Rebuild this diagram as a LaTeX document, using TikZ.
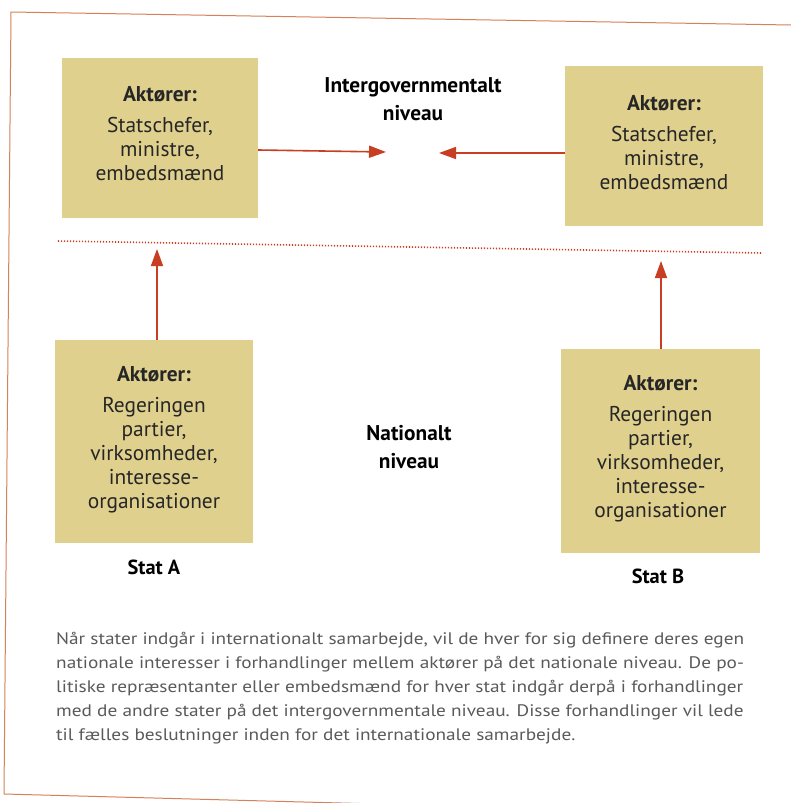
\documentclass[tikz,border=0pt]{standalone}
\usepackage{fontspec}
\setmainfont{PT Sans}
\newfontfamily\capfont[FakeStretch=1.155]{PT Sans}
\usetikzlibrary{arrows.meta}
\definecolor{boxfill}{RGB}{224,208,142}
\definecolor{arrowred}{RGB}{200,62,34}
\definecolor{framecol}{RGB}{212,130,90}
\definecolor{captext}{RGB}{90,90,90}
\begin{document}
\begin{tikzpicture}[x=1pt,y=-1pt,
  actorbox/.style={fill=boxfill,draw=none,inner sep=0pt,align=center,
    font=\fontsize{21.4}{24}\selectfont,text=black!85},
  redarrow/.style={draw=arrowred,line width=1.6pt,-{Triangle[length=17pt,width=12pt]}},
  levellabel/.style={align=center,font=\bfseries\fontsize{21.3}{28.5}\selectfont},
  statlabel/.style={font=\bfseries\fontsize{20.4}{24}\selectfont},
  capline/.style={anchor=base west,inner sep=0pt,text=captext,font=\capfont\fontsize{16.7}{24}\selectfont}]
\useasboundingbox (0,0) rectangle (791,803);
\fill[white] (0,0) rectangle (791,803);
% frame
\draw[framecol,line width=1pt] (4,794) -- (11,12) -- (791,25);
\draw[framecol,line width=1pt] (4,794) -- (360,803.5);
% boxes
\node[actorbox,minimum width=196pt,minimum height=160pt] (tl) at (160,138) {};
\node[actorbox,minimum width=198pt,minimum height=160pt] (tr) at (664,146) {};
\node[actorbox,minimum width=198pt,minimum height=203pt] (bl) at (154,441.5) {};
\node[actorbox,minimum width=199pt,minimum height=204pt] (br) at (660.5,451) {};
% box texts
\node[actorbox,fill=none] (tlt) at (160,134) {{\bfseries Aktører:}\\[7pt]Statschefer,\\ministre,\\embedsmænd};
\node[actorbox,fill=none] (trt) at (664,143) {{\bfseries Aktører:}\\[7pt]Statschefer,\\ministre,\\embedsmænd};
\node[actorbox,fill=none] (blt) at (154,440) {{\bfseries Aktører:}\\[7pt]Regeringen\\partier,\\virksomheder,\\interesse-\\organisationer};
\node[actorbox,fill=none] (brt) at (660.5,449) {{\bfseries Aktører:}\\[7pt]Regeringen\\partier,\\virksomheder,\\interesse-\\organisationer};
% level labels
\node[levellabel] (inter) at (413,99) {Intergovernmentalt\\niveau};
\node[levellabel] (nat) at (409,447) {Nationalt\\niveau};
% state labels
\node[statlabel] (sa) at (154,567) {Stat A};
\node[statlabel] (sb) at (658,576) {Stat B};
% dotted separator
\coordinate (dl) at (58,241);
\coordinate (dr) at (761,253);
\draw[arrowred,line width=1.6pt,dash pattern=on 1.2pt off 1.8pt] (dl) -- (dr);
% arrows
\coordinate (tipl) at (386,152);
\coordinate (tipr) at (439,153);
\coordinate (tipbl) at (157,249);
\coordinate (tipbr) at (661,261);
\draw[redarrow] (tl.east |- 0,150) -- (tipl);
\draw[redarrow] (tr.west |- 0,153) -- (tipr);
\draw[redarrow] (bl.north -| tipbl) -- (tipbl);
\draw[redarrow] (br.north -| tipbr) -- (tipbr);
% caption
\node[capline] (c1) at (56,644) {Når stater indgår i internationalt samarbejde, vil de hver for sig definere deres egen};
\node[capline] (c2) at (56,668) {nationale interesser i forhandlinger mellem aktører på det nationale niveau. De po-};
\node[capline] (c3) at (56,692) {litiske repræsentanter eller embedsmænd for hver stat indgår derpå i forhandlinger};
\node[capline] (c4) at (56,716) {med de andre stater på det intergovernmentale niveau. Disse forhandlinger vil lede};
\node[capline] (c5) at (56,740) {til fælles beslutninger inden for det internationale samarbejde.};
\end{tikzpicture}
\end{document}
